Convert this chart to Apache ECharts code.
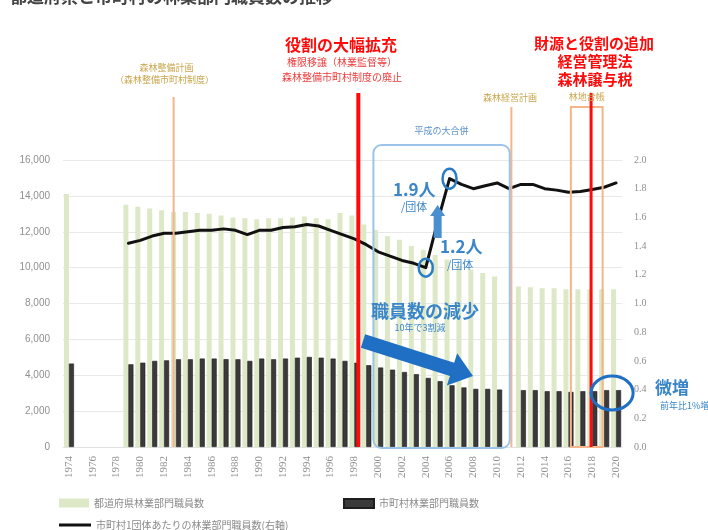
<!DOCTYPE html>
<html>
<head>
<meta charset="utf-8">
<script src="https://cdn.jsdelivr.net/npm/echarts@6/dist/echarts.min.js"></script>
<style>
html,body{margin:0;padding:0;background:#fff;}
#chart{width:708px;height:530px;}
</style>
</head>
<body>
<div id="chart"></div>
<script>
// Fiscal years on the category axis
const years = ['1974','1975','1976','1977','1978','1979','1980','1981','1982','1983',
  '1984','1985','1986','1987','1988','1989','1990','1991','1992','1993',
  '1994','1995','1996','1997','1998','1999','2000','2001','2002','2003',
  '2004','2005','2006','2007','2008','2009','2010','2011','2012','2013',
  '2014','2015','2016','2017','2018','2019','2020'];

// Prefectural forestry staff (left axis)
const prefStaff = [14100,null,null,null,null,13500,13400,13300,13200,13100,
  13100,13050,13000,12900,12800,12750,12700,12750,12750,12800,
  12850,12750,12700,13050,12900,12400,12100,11750,11550,11200,
  11000,10700,10450,10100,9900,9700,9500,null,8950,8900,
  8850,8850,8800,8800,8800,8800,8800];

// Municipal forestry staff (left axis)
const muniStaff = [4650,null,null,null,null,4610,4700,4800,4830,4890,
  4890,4930,4930,4900,4890,4800,4930,4890,4930,4980,
  5020,4980,4930,4800,4700,4560,4430,4310,4180,4060,
  3850,3670,3440,3320,3240,3240,3200,null,3170,3170,
  3110,3110,3070,3110,3110,3170,3170];

// Forestry staff per municipality (right axis)
const staffPerMuni = [null,null,null,null,null,1.42,1.44,1.47,1.49,1.49,
  1.50,1.51,1.51,1.52,1.51,1.48,1.51,1.51,1.53,1.535,
  1.55,1.54,1.51,1.48,1.45,1.41,1.36,1.33,1.30,1.28,
  1.25,1.57,1.87,1.83,1.80,1.82,1.84,1.80,1.83,1.83,
  1.80,1.79,1.775,1.78,1.795,1.81,1.84];

const leftTicks = {min:0, max:16000, interval:2000};
const rightTicks = {min:0, max:2.0, interval:0.2};

const seriesNames = ['都道府県林業部門職員数','市町村林業部門職員数','市町村1団体あたりの林業部門職員数(右軸)'];

const JP = '"Noto Sans CJK JP", "Noto Sans", sans-serif';
const SERIF = '"Liberation Serif", "DejaVu Serif", serif';

const chart = echarts.init(document.getElementById('chart'), null, {renderer:'canvas'});

chart.setOption({
  animation:false,
  backgroundColor:'#ffffff',
  grid:{left:63, right:86, top:160, bottom:83, containLabel:false},
  legend:[
    {data:[seriesNames[0]], left:54, top:493, itemWidth:30, itemHeight:9, icon:'rect', itemGap:4,
     textStyle:{color:'#8a8a8a', fontSize:10, fontFamily:JP}},
    {data:[seriesNames[1]], left:338, top:493, itemWidth:30, itemHeight:9, icon:'rect',
     textStyle:{color:'#8a8a8a', fontSize:10, fontFamily:JP}},
    {data:[{name:seriesNames[2], icon:'rect'}], left:54, top:515, itemWidth:32, itemHeight:3,
     textStyle:{color:'#8a8a8a', fontSize:10, fontFamily:JP}}
  ],
  xAxis:{
    type:'category', data:years, boundaryGap:true,
    axisLine:{show:true, lineStyle:{color:'#e2e2e2'}},
    axisTick:{show:false},
    axisLabel:{interval:1, rotate:90, color:'#8f8f8f', fontSize:11, fontFamily:SERIF, margin:9}
  },
  yAxis:[
    {type:'value', min:leftTicks.min, max:leftTicks.max, interval:leftTicks.interval,
     axisLine:{show:false}, axisTick:{show:false},
     axisLabel:{color:'#8f8f8f', fontSize:10, fontFamily:'"Liberation Sans", sans-serif', margin:13,
       formatter:v=>v.toLocaleString('en-US')},
     splitLine:{show:true, lineStyle:{color:'#e8e8e8', width:1}}},
    {type:'value', position:'right', min:rightTicks.min, max:rightTicks.max, interval:rightTicks.interval,
     axisLine:{show:false}, axisTick:{show:false},
     axisLabel:{color:'#8f8f8f', fontSize:10, fontFamily:SERIF, margin:12,
       formatter:v=>v.toFixed(1)},
     splitLine:{show:false}}
  ],
  series:[
    {name:seriesNames[0], type:'bar', data:prefStaff, yAxisIndex:0,
     barWidth:5, barGap:'0%',
     itemStyle:{color:'#dde9c6'}},
    {name:seriesNames[1], type:'bar', data:muniStaff, yAxisIndex:0,
     barWidth:5, barGap:'0%',
     itemStyle:{color:'#3a3a3a', borderColor:'#1e1e1e', borderWidth:0.6}},
    {name:seriesNames[2], type:'line', data:staffPerMuni, yAxisIndex:1,
     symbol:'none', connectNulls:false, z:5,
     lineStyle:{color:'#111111', width:3, join:'round', cap:'round'},
     itemStyle:{color:'#111111'}}
  ]
});

// ---- annotation layer, positioned from the axes ----
function px(yearF, v, yAxisIndex){
  const base = yearF - 1974;
  const i0 = Math.floor(base), f = base - i0;
  const a = chart.convertToPixel({xAxisIndex:0, yAxisIndex:yAxisIndex||0}, [i0, v]);
  const b = chart.convertToPixel({xAxisIndex:0, yAxisIndex:yAxisIndex||0}, [i0+1, v]);
  return [a[0] + (b[0]-a[0])*f, a[1]];
}
const yZero = px(1974, 0)[1];

const ORANGE = '#f6b48a', RED = '#ff0a0a', BLUE = '#2a7cc7', TAN = '#c9a54c';

function vline(yr, top, color, width, z){
  const x = px(yr, 0)[0];
  return {type:'line', z:z||20, shape:{x1:x, y1:top, x2:x, y2:yZero}, style:{stroke:color, lineWidth:width}};
}
function txt(x, y, text, size, color, opts){
  return Object.assign({type:'text', z:40, style:Object.assign({x:x, y:y, text:text, fontSize:size, fill:color,
    fontFamily:JP, align:'center', verticalAlign:'middle'}, opts||{})});
}
function arrow(x1, y1, x2, y2, shaftW, headL, headW, color){
  const dx = x2-x1, dy = y2-y1, L = Math.hypot(dx, dy);
  const ux = dx/L, uy = dy/L, nx = -uy, ny = ux;
  const bx = x2 - ux*headL, by = y2 - uy*headL;
  const pts = [
    [x1+nx*shaftW/2, y1+ny*shaftW/2], [bx+nx*shaftW/2, by+ny*shaftW/2],
    [bx+nx*headW/2, by+ny*headW/2], [x2, y2],
    [bx-nx*headW/2, by-ny*headW/2], [bx-nx*shaftW/2, by-ny*shaftW/2],
    [x1-nx*shaftW/2, y1-ny*shaftW/2]
  ];
  return {type:'polygon', z:30, shape:{points:pts}, style:{fill:color}};
}

const p2004 = px(2004, staffPerMuni[30], 1);
const p2006 = px(2006, staffPerMuni[32], 1);
const boxL = px(1999.6, 0)[0], boxR = px(2011.06, 0)[0];
const oBoxL = px(2016.2, 0)[0], oBoxR = px(2018.87, 0)[0];
const endBox = px(2019.5, muniStaff[45]);
const arrowX = px(2005, 0)[0];

const g = [
  // heading strip, clipped by the top edge
  txt(10, -3, '都道府県と市町村の林業部門職員数の推移', 17, '#444', {align:'left', fontWeight:'bold'}),

  vline(1982.8, 97, ORANGE, 2),
  txt(px(1982.8,0)[0]-7, 68, '森林整備計画', 9, TAN),
  txt(px(1982.8,0)[0]-9, 80, '（森林整備市町村制度）', 9, TAN),

  vline(1998.33, 93, RED, 4, 25),
  txt(341, 45, '役割の大幅拡充', 16, RED, {fontWeight:'bold'}),
  txt(342, 62, '権限移譲（林業監督等）', 10, '#ee3b3b'),
  txt(342, 77, '森林整備市町村制度の廃止', 10, '#ee3b3b'),

  {type:'rect', z:22, shape:{x:boxL, y:145, width:boxR-boxL, height:yZero+1-145, r:8},
   style:{fill:'none', stroke:'#9cc4ea', lineWidth:2}},
  txt((boxL+boxR)/2, 131, '平成の大合併', 9, '#5c93cc'),

  vline(2011.2, 107, ORANGE, 2),
  txt(510, 98, '森林経営計画', 9, TAN),

  {type:'rect', z:22, shape:{x:oBoxL, y:107, width:oBoxR-oBoxL, height:yZero-107},
   style:{fill:'none', stroke:ORANGE, lineWidth:2}},
  txt((oBoxL+oBoxR)/2, 97, '林地台帳', 9, TAN),
  vline(2017.9, 93, RED, 3, 25),
  txt(594, 43, '財源と役割の追加', 15, RED, {fontWeight:'bold'}),
  txt(595, 61, '経営管理法', 15, RED, {fontWeight:'bold'}),
  txt(595, 79, '森林譲与税', 15, RED, {fontWeight:'bold'}),

  {type:'ellipse', z:35, shape:{cx:p2004[0], cy:p2004[1], rx:7, ry:9}, style:{fill:'none', stroke:BLUE, lineWidth:2.5}},
  {type:'ellipse', z:35, shape:{cx:p2006[0], cy:p2006[1], rx:7, ry:10}, style:{fill:'none', stroke:BLUE, lineWidth:2.5}},
  arrow(arrowX, 238, arrowX, 205, 8, 11, 15, '#4a8fd0'),
  txt(393, 190, '1.9人', 17, '#3a86c8', {align:'left', fontWeight:'bold'}),
  txt(401, 207, '/団体', 11, '#3a86c8', {align:'left'}),
  txt(440, 247, '1.2人', 17, '#3a86c8', {align:'left', fontWeight:'bold'}),
  txt(447, 265, '/団体', 11, '#3a86c8', {align:'left'}),

  txt(425, 311, '職員数の減少', 18, '#3a86c8', {fontWeight:'bold'}),
  txt(420, 328, '10年で3割減', 9, '#3a86c8'),
  arrow(363, 341, 473, 376, 14, 22, 34, '#1f6fc5'),

  {type:'ellipse', z:35, shape:{cx:endBox[0]+2, cy:393, rx:21, ry:17}, style:{fill:'none', stroke:'#1f6fc5', lineWidth:3}},
  txt(655, 388, '微増', 17, '#3a86c8', {align:'left', fontWeight:'bold'}),
  txt(660, 406, '前年比1%増', 9, '#3a86c8', {align:'left'})
];
chart.setOption({graphic:{elements:g}});
</script>
</body>
</html>
